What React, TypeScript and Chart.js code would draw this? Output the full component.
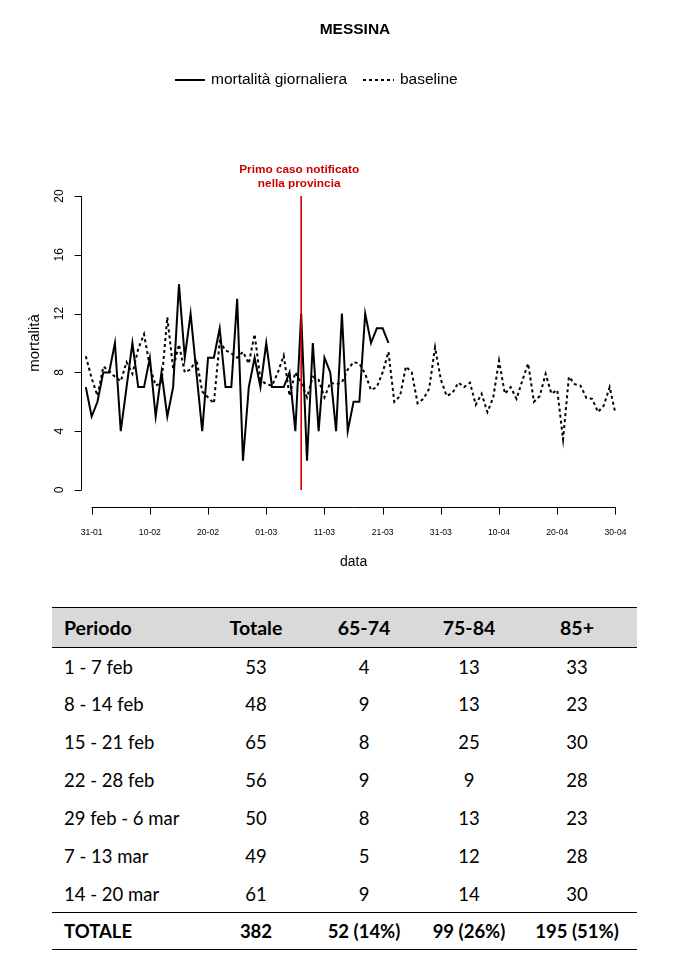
import React, { useEffect, useRef } from "react";
import { Chart, registerables } from "chart.js";

Chart.register(...registerables);

// ---------- DATA ----------
// day index 0 = 30-01 (2020)
const xTickDays = [1, 11, 21, 31, 41, 51, 61, 71, 81, 91];
const xTickLabels = ["31-01", "10-02", "20-02", "01-03", "11-03", "21-03", "31-03", "10-04", "20-04", "30-04"];
const yTicks = [0, 4, 8, 12, 16, 20];

const mortalita = [
  7, 5, 6, 8, 8, 10, 4, 7, 10, 7, 7, 9, 5, 8, 5, 7, 14, 9, 12, 8, 4, 9, 9, 11, 7, 7, 13, 2, 7, 9,
  7, 10, 7, 7, 7, 8, 4, 12, 2, 10, 4, 9, 8, 4, 12, 4, 6, 6, 12, 10, 11, 11, 10,
];

const baseline = [
  9.1, 7.6, 6.4, 8.4, 8.1, 7.7, 7.4, 8.7, 7.9, 9.6,
  10.6, 8.4, 7.1, 7.3, 11.75, 8.25, 9.9, 8.0, 8.2, 8.9,
  6.7, 6.3, 5.9, 10.1, 9.5, 9.3, 9.0, 9.4, 8.6, 10.6,
  7.5, 7.2, 7.1, 8.0, 9.15, 6.4, 8.0, 7.3, 6.3, 7.7,
  7.5, 6.3, 7.3, 7.2, 7.3, 8.2, 8.7, 8.6, 7.9, 6.8,
  7.0, 8.0, 9.4, 6.0, 6.4, 8.4, 8.0, 5.9, 6.2, 6.9,
  9.7, 7.5, 6.4, 6.6, 7.3, 7.0, 7.3, 5.8, 6.55, 5.3,
  6.3, 8.8, 6.55, 7.0, 6.2, 7.45, 8.6, 6.0, 6.4, 7.9,
  6.55, 6.8, 3.45, 7.7, 7.2, 7.1, 6.26, 6.2, 5.3, 5.75,
  7.0, 5.2,
];

const primoCasoDay = 37;

const chartTitle = "MESSINA";
const legendLabels = ["mortalità giornaliera", "baseline"];
const annotationLines = ["Primo caso notificato", "nella provincia"];
const xTitle = "data";
const yTitle = "mortalità";

const tableHeader = ["Periodo", "Totale", "65-74", "75-84", "85+"];
const periodi = ["1 - 7 feb", "8 - 14 feb", "15 - 21 feb", "22 - 28 feb", "29 feb - 6 mar", "7 - 13 mar", "14 - 20 mar"];
const totale = [53, 48, 65, 56, 50, 49, 61];
const eta6574 = [4, 9, 8, 9, 8, 5, 9];
const eta7584 = [13, 13, 25, 9, 13, 12, 14];
const eta85 = [33, 23, 30, 28, 23, 28, 30];

// ---------- STYLE ----------
const RED = "#CC0000";
const FONT = "'Liberation Sans', Arial, Helvetica, sans-serif";

const rStylePlugin = {
  id: "rStyle",
  afterDraw(chart: any) {
    const ctx: CanvasRenderingContext2D = chart.ctx;
    const xs = chart.scales.x;
    const ys = chart.scales.y;
    const area = chart.chartArea;
    ctx.save();
    ctx.strokeStyle = "#000";
    ctx.fillStyle = "#000";
    ctx.lineWidth = 1;

    // Y axis
    const ax = Math.round(area.left) + 0.5;
    const y0 = ys.getPixelForValue(yTicks[0]);
    const y1 = ys.getPixelForValue(yTicks[yTicks.length - 1]);
    ctx.beginPath();
    ctx.moveTo(ax, y0);
    ctx.lineTo(ax, y1);
    yTicks.forEach((t) => {
      const py = Math.round(ys.getPixelForValue(t)) + 0.5;
      ctx.moveTo(ax, py);
      ctx.lineTo(ax - 7, py);
    });
    ctx.stroke();
    ctx.font = `12px ${FONT}`;
    ctx.textAlign = "center";
    ctx.textBaseline = "middle";
    yTicks.forEach((t) => {
      const py = ys.getPixelForValue(t);
      ctx.save();
      ctx.translate(60, py);
      ctx.rotate(-Math.PI / 2);
      ctx.fillText(String(t), 0, 0);
      ctx.restore();
    });
    ctx.font = `15px ${FONT}`;
    ctx.save();
    ctx.translate(35, ys.getPixelForValue(10));
    ctx.rotate(-Math.PI / 2);
    ctx.fillText(yTitle, 0, 0);
    ctx.restore();

    // X axis
    const axY = 507.5;
    const xa = xs.getPixelForValue(xTickDays[0]);
    const xb = xs.getPixelForValue(xTickDays[xTickDays.length - 1]);
    ctx.beginPath();
    ctx.moveTo(xa, axY);
    ctx.lineTo(xb, axY);
    xTickDays.forEach((d) => {
      const px = Math.round(xs.getPixelForValue(d)) + 0.5;
      ctx.moveTo(px, axY);
      ctx.lineTo(px, axY + 7);
    });
    ctx.stroke();
    ctx.font = `8.6px ${FONT}`;
    xTickDays.forEach((d, i) => {
      ctx.fillText(xTickLabels[i], xs.getPixelForValue(d), 533);
    });
    ctx.font = `14px ${FONT}`;
    ctx.fillText(xTitle, (xa + xb) / 2, 562);

    // Title
    ctx.font = `bold 15.5px ${FONT}`;
    ctx.fillText(chartTitle, 355, 30);

    // Legend
    ctx.font = `15.5px ${FONT}`;
    ctx.textAlign = "left";
    ctx.lineWidth = 2;
    ctx.beginPath();
    ctx.moveTo(175, 80);
    ctx.lineTo(205, 80);
    ctx.stroke();
    ctx.fillText(legendLabels[0], 211, 80);
    ctx.setLineDash([3, 3]);
    ctx.beginPath();
    ctx.moveTo(363, 80);
    ctx.lineTo(394, 80);
    ctx.stroke();
    ctx.setLineDash([]);
    ctx.fillText(legendLabels[1], 400, 80);

    // Annotation
    ctx.textAlign = "center";
    ctx.fillStyle = RED;
    ctx.font = `bold 11.8px ${FONT}`;
    const axp = xs.getPixelForValue(primoCasoDay) - 2;
    ctx.fillText(annotationLines[0], axp, 170);
    ctx.fillText(annotationLines[1], axp, 184);
    ctx.restore();
  },
};

function ChartBlock() {
  const ref = useRef<HTMLCanvasElement | null>(null);
  useEffect(() => {
    if (!ref.current) return;
    const chart = new Chart(ref.current, {
      type: "line",
      data: {
        datasets: [
          {
            label: "primo caso",
            data: [
              { x: primoCasoDay, y: yTicks[0] },
              { x: primoCasoDay, y: yTicks[yTicks.length - 1] },
            ],
            borderColor: RED,
            borderWidth: 1.6,
            pointRadius: 0,
          },
          {
            label: legendLabels[0],
            data: mortalita.map((v, i) => ({ x: i, y: v })),
            borderColor: "#000",
            borderWidth: 2,
            pointRadius: 0,
            tension: 0,
          },
          {
            label: legendLabels[1],
            data: baseline.map((v, i) => ({ x: i, y: v })),
            borderColor: "#000",
            borderWidth: 2,
            borderDash: [3, 3],
            pointRadius: 0,
            tension: 0,
          },
        ],
      },
      options: {
        responsive: false,
        animation: false,
        events: [],
        layout: { padding: { left: 81, right: 62.9, top: 196, bottom: 110 } },
        scales: {
          x: { type: "linear", min: -0.83, max: 93, display: false },
          y: { type: "linear", min: 0, max: 20, display: false },
        },
        plugins: {
          legend: { display: false },
          tooltip: { enabled: false },
          title: { display: false },
        },
        elements: { line: { borderCapStyle: "butt", borderJoinStyle: "miter" } },
      },
      plugins: [rStylePlugin],
    } as any);
    return () => chart.destroy();
  }, []);
  return (
    <canvas
      ref={ref}
      width={690}
      height={600}
      style={{ position: "absolute", left: 0, top: 0, width: 690, height: 600 }}
    />
  );
}

const colWidths = [153, 102, 114, 96, 120];
const firstColPad = 12;
const TFONT = "Lato, 'Open Sans', 'Noto Sans', sans-serif";

function DataTable() {
  const sum = (a: number[]) => a.reduce((s, v) => s + v, 0);
  const tot = sum(totale);
  const pct = (a: number[]) => `${sum(a)} (${Math.round((sum(a) / tot) * 100)}%)`;
  const cell = (i: number, bold = false): React.CSSProperties => ({
    width: i === 0 ? colWidths[0] - firstColPad : colWidths[i],
    textAlign: i === 0 ? "left" : "center",
    fontWeight: bold ? 700 : 400,
    paddingTop: 0,
    paddingBottom: 0,
    paddingRight: 0,
    paddingLeft: i === 0 ? firstColPad : 0,
    whiteSpace: "nowrap",
    boxSizing: "content-box",
  });
  const rowH = 37.9;
  return (
    <table
      style={{
        position: "absolute",
        left: 52,
        top: 607,
        width: 585,
        borderCollapse: "collapse",
        tableLayout: "fixed",
        fontFamily: TFONT,
        fontSize: 18.5,
        color: "#000",
      }}
    >
      <colgroup>
        {colWidths.map((w, i) => (
          <col key={i} style={{ width: w }} />
        ))}
      </colgroup>
      <tbody>
        <tr style={{ height: 40, background: "#D9D9D9", borderTop: "1px solid #000", borderBottom: "1px solid #000" }}>
          {tableHeader.map((h, i) => (
            <td key={h} style={{ ...cell(i, true), fontSize: 19.5 }}>
              {h}
            </td>
          ))}
        </tr>
        {periodi.map((p, r) => (
          <tr key={p} style={{ height: rowH }}>
            {[p, totale[r], eta6574[r], eta7584[r], eta85[r]].map((v, i) => (
              <td key={i} style={cell(i)}>
                {v}
              </td>
            ))}
          </tr>
        ))}
        <tr style={{ height: 37, borderTop: "1px solid #000", borderBottom: "1px solid #000" }}>
          {["TOTALE", String(tot), pct(eta6574), pct(eta7584), pct(eta85)].map((v, i) => (
            <td key={i} style={cell(i, true)}>
              {v}
            </td>
          ))}
        </tr>
      </tbody>
    </table>
  );
}

export default function App() {
  return (
    <div style={{ position: "absolute", left: 0, top: 0, width: 690, height: 958, background: "#fff" }}>
      <ChartBlock />
      <DataTable />
    </div>
  );
}
